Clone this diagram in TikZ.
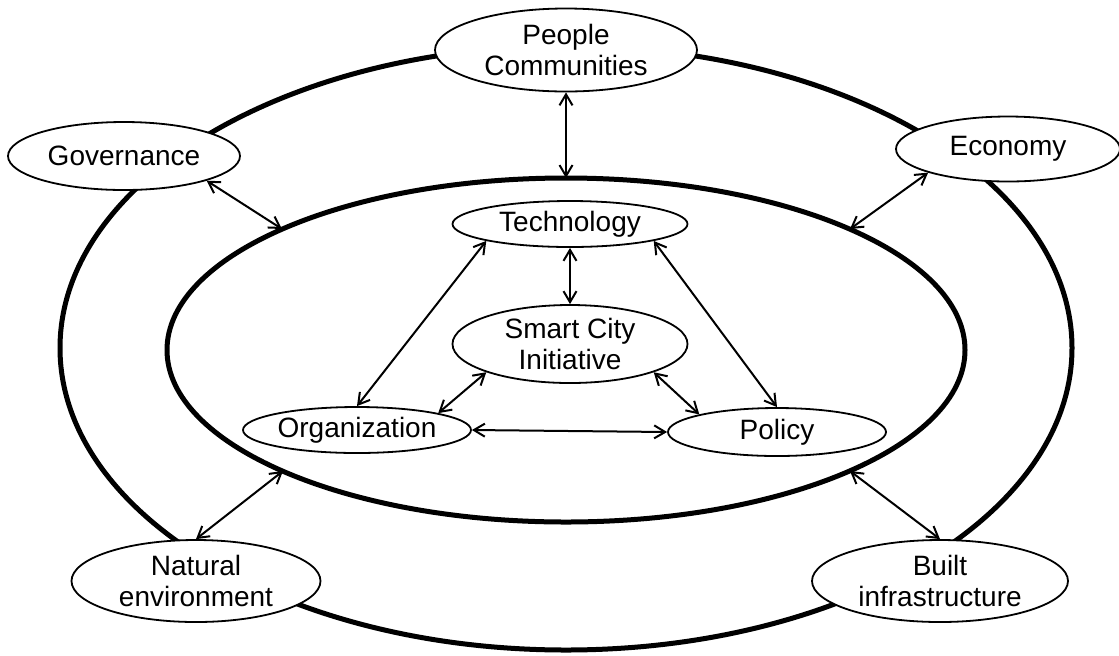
\documentclass[tikz,border=0pt]{standalone}
\usepackage{fontspec}
\setmainfont{Liberation Sans}
\usetikzlibrary{shapes.geometric,arrows.meta}

\begin{document}
\begin{tikzpicture}[x=0.5pt, y=-0.5pt,
    ring/.style={line width=2.5pt},
    blob/.style={ellipse, draw, line width=0.9pt, fill=white, inner sep=0pt, align=center,
      font=\fontsize{14}{15.5}\selectfont},
    link/.style={line width=1pt,
      {Straight Barb[length=5.5pt,width=6.5pt]}-{Straight Barb[length=5.5pt,width=6.5pt]}}]
      \useasboundingbox (0,0) rectangle (1119,655);
      \draw[ring] (566,348) ellipse [x radius=506, y radius=302];
      \draw[ring] (566,350) ellipse [x radius=399, y radius=172];
      \node[blob, minimum width=131pt, minimum height=41.5pt] (ppl) at (566,50) {People\\Communities};
      \node[blob, minimum width=116pt, minimum height=34pt] (gov) at (124,156) {Governance};
      \node[blob, minimum width=112pt, minimum height=32.5pt] (eco) at (1008,149) {Economy};
      \node[blob, minimum width=117.5pt, minimum height=23pt] (tech) at (570,224) {Technology};
      \node[blob, minimum width=117.5pt, minimum height=39pt] (sci) at (570,344) {Smart City\\Initiative};
      \node[blob, minimum width=114pt, minimum height=23pt] (org) at (357,430) {Organization};
      \node[blob, minimum width=109pt, minimum height=24pt] (pol) at (777,432) {Policy};
      \node[blob, minimum width=124.5pt, minimum height=41pt] (nat) at (196,581) {Natural\\environment};
      \node[blob, minimum width=128pt, minimum height=41pt] (blt) at (940,581) {Built\\infrastructure};
      \coordinate (top) at (566,178);
      \coordinate (nw) at (282,229);
      \coordinate (ne) at (850,229);
      \coordinate (sw) at (283,471);
      \coordinate (se) at (850,471);
      \draw[link] (ppl.south) -- (top);
      \draw[link] (gov.south east) -- (nw);
      \draw[link] (eco.south west) -- (ne);
      \draw[link] (nat.north) -- (sw);
      \draw[link] (blt.north) -- (se);
      \draw[link] (tech.south) -- (sci.north);
      \draw[link] (tech.south west) -- (org.north);
      \draw[link] (tech.south east) -- (pol.north);
      \draw[link] (sci.south west) -- (org.north east);
      \draw[link] (sci.south east) -- (pol.north west);
      \draw[link] (org.east) -- (pol.west);
    \end{tikzpicture}
\end{document}
